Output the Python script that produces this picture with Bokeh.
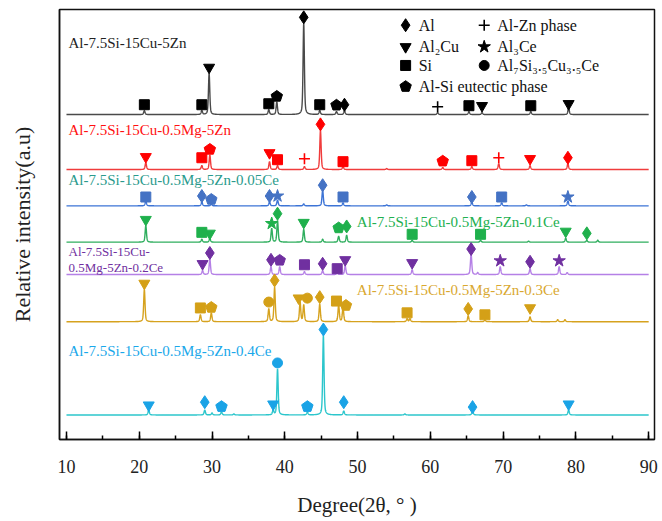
import numpy as np
from bokeh.plotting import figure
from bokeh.models import Range1d, SingleIntervalTicker, FixedTicker, Label
from bokeh.embed import file_html
from bokeh.resources import INLINE

# ---------------- data (2theta in degrees, intensities in a.u.) ----------------
names = ["Al-7.5Si-15Cu-5Zn",
         "Al-7.5Si-15Cu-0.5Mg-5Zn",
         "Al-7.5Si-15Cu-0.5Mg-5Zn-0.05Ce",
         "Al-7.5Si-15Cu-0.5Mg-5Zn-0.1Ce",
         "Al-7.5Si-15Cu-0.5Mg-5Zn-0.2Ce",
         "Al-7.5Si-15Cu-0.5Mg-5Zn-0.3Ce",
         "Al-7.5Si-15Cu-0.5Mg-5Zn-0.4Ce"]
offsets = [331, 275, 238, 201, 168, 120, 25]

# peak positions / heights
pk0_x = [20.7, 28.6, 29.6, 37.8, 38.9, 42.6, 44.8, 47.1, 48.2, 61.0, 65.3, 67.1, 73.8, 79.0]
pk0_h = [4, 4, 42, 5, 13, 93, 4, 3, 4, 2, 3, 2, 3, 7]
pk1_x = [20.9, 28.6, 29.7, 37.9, 39.0, 42.7, 44.9, 48.0, 54.0, 61.7, 65.7, 69.4, 73.7, 78.9]
pk1_h = [7, 4, 15, 8, 4, 3, 40, 3, 1, 2, 3, 6, 4, 6]
pk2_x = [20.9, 28.6, 29.9, 37.9, 39.0, 42.6, 45.2, 48.0, 54.0, 65.7, 69.8, 73.2, 78.9]
pk2_h = [5, 4, 2, 4, 6, 2, 16, 3, 1, 4, 3, 1, 5]
pk3_x = [20.9, 28.6, 29.7, 38.2, 39.0, 42.6, 45.2, 47.4, 48.5, 57.5, 66.9, 73.5, 78.6, 81.5, 83.0]
pk3_h = [17, 3, 4, 14, 22, 13, 3, 6, 7, 2, 2, 1, 4, 2, 2]
pk4_x = [28.7, 29.7, 38.1, 39.3, 42.7, 45.2, 47.2, 48.3, 57.5, 65.6, 66.5, 69.6, 73.7, 77.7, 78.8]
pk4_h = [4, 16, 8, 8, 3, 4, 2, 9, 5, 21, 2, 8, 6, 8, 2]
pk5_x = [20.7, 28.4, 29.9, 37.8, 38.6, 42.1, 42.6, 44.8, 47.4, 48.0, 56.8, 57.2, 65.2, 67.5, 73.7, 77.5, 78.5]
pk5_h = [33, 7, 9, 13, 35, 20, 17, 18, 17, 15, 3, 3, 6, 2, 5, 2, 2]
pk6_x = [21.3, 29.0, 30.0, 31.3, 33.0, 38.4, 39.0, 43.1, 45.3, 48.1, 56.5, 65.8, 79.0]
pk6_h = [5, 5, 2, 3, 1, 5, 47, 3, 81, 4, 1, 5, 5]

# phase markers: position, phase, height above the trace
mk0_x = [20.7, 28.6, 29.6, 37.8, 38.9, 42.6, 44.8, 47.1, 48.2, 61.0, 65.3, 67.1, 73.8, 79.0]
mk0_p = ["Si", "Si", "Al2Cu", "Si", "eut", "Al", "Si", "eut", "Al", "AlZn", "Si", "Al2Cu", "Si", "Al2Cu"]
mk0_h = [10, 10, 48, 11, 19, 99, 10, 10, 10, 8, 9, 9, 9, 11]
mk1_x = [20.9, 28.6, 29.7, 37.9, 39.0, 42.7, 44.9, 48.0, 61.7, 65.7, 69.4, 73.7, 78.9]
mk1_p = ["Al2Cu", "Si", "eut", "Al2Cu", "Si", "AlZn", "Al", "Si", "eut", "Si", "AlZn", "Al2Cu", "Al"]
mk1_h = [13, 12, 21, 17, 10, 11, 46, 8, 9, 9, 12, 11, 12]
mk2_x = [20.9, 28.6, 29.9, 37.9, 39.0, 45.2, 48.0, 65.7, 69.8, 78.9]
mk2_p = ["Si", "Al", "eut", "Al", "Al3Ce", "Al", "Si", "Al", "Si", "Al3Ce"]
mk2_h = [9, 10, 7, 10, 10, 21, 9, 9, 9, 9]
mk3_x = [20.9, 28.6, 29.7, 38.2, 39.0, 42.6, 47.4, 48.5, 57.5, 66.9, 78.6, 81.5]
mk3_p = ["Al2Cu", "Si", "Al2Cu", "Al3Ce", "Al", "Al2Cu", "eut", "Al", "Si", "Si", "Al2Cu", "Al"]
mk3_h = [23, 10, 9, 19, 29, 20, 15, 16, 8, 8, 11, 9]
mk4_x = [28.7, 29.7, 38.1, 39.3, 42.7, 45.2, 47.2, 48.3, 57.5, 65.6, 69.6, 73.7, 77.7]
mk4_p = ["Al2Cu", "Al", "Al", "eut", "Si", "Al", "Si", "Al2Cu", "Al2Cu", "Al", "Al3Ce", "Al", "Al3Ce"]
mk4_h = [11, 22, 15, 15, 10, 11, 6, 15, 12, 26, 14, 13, 14]
mk5_x = [20.7, 28.4, 29.9, 37.8, 38.6, 41.9, 43.1, 44.8, 47.1, 48.4, 56.8, 65.2, 67.5, 73.7]
mk5_p = ["Al2Cu", "Si", "eut", "AlSiCuCe", "Al", "Al2Cu", "AlSiCuCe", "Al", "Si", "eut", "Si", "Al", "Si", "Al2Cu"]
mk5_h = [39, 14, 15, 20, 42, 24, 24, 25, 21, 17, 9, 13, 7, 14]
mk6_x = [21.3, 29.0, 31.3, 38.4, 39.0, 43.1, 45.3, 48.1, 65.8, 79.0]
mk6_p = ["Al2Cu", "Al", "eut", "Al2Cu", "AlSiCuCe", "eut", "Al", "Al", "Al", "Al2Cu"]
mk6_h = [10, 13, 9, 11, 53, 9, 87, 13, 8, 11]

legend_phases = ["Al", "Al2Cu", "Si", "eut", "AlZn", "Al3Ce", "AlSiCuCe"]
legend_texts = ["Al", "Al\u2082Cu", "Si", "Al-Si eutectic phase", "Al-Zn phase", "Al\u2083Ce",
                "Al\u2087Si\u2083.\u2085Cu\u2083.\u2085Ce"]

# ---------------- styles ----------------
line_colors = ["#4a4a4a", "#f03c3c", "#3d74d6", "#2fae5e", "#b580e6", "#d6a21e", "#2cc6cc"]
mark_colors = ["#000000", "#ff0000", "#4472c4", "#1fb04c", "#7030a0", "#d4a017", "#1aa3e6"]
label_colors = ["#222222", "#ff1010", "#2a9a8c", "#22b050", "#7030a0", "#d9a830", "#1aa8ea"]
FONT = "Liberation Serif"

X0, X1 = 9.04, 90.8
Y0, Y1 = 0, 438
FW, FH = 595, 438
PXX = FW / (X1 - X0)   # pixels per degree
PXY = FH / (Y1 - Y0)

p = figure(width=658, height=519, output_backend="svg", toolbar_location=None,
           x_range=Range1d(X0, X1), y_range=Range1d(Y0, Y1),
           min_border_left=59, min_border_right=4, min_border_top=9, min_border_bottom=72)
p.xgrid.visible = False
p.ygrid.visible = False
p.background_fill_color = "white"
p.outline_line_color = "#111111"
p.outline_line_width = 1.5

marker_map = {"Al": ("diamond", 13), "Al2Cu": ("inverted_triangle", 11), "Si": ("square", 10),
              "AlZn": ("cross", 11), "Al3Ce": ("star", 13), "AlSiCuCe": ("circle", 10)}


def draw_marks(xs, ys, phases, color):
    for ph, (mk, sz) in marker_map.items():
        sx = [x for x, q in zip(xs, phases) if q == ph]
        sy = [y for y, q in zip(ys, phases) if q == ph]
        if not sx:
            continue
        if mk == "cross":
            p.scatter(sx, sy, marker=mk, size=sz, line_color=color, line_width=1.6)
        else:
            p.scatter(sx, sy, marker=mk, size=sz, fill_color=color, line_color=color)
    px = [x for x, q in zip(xs, phases) if q == "eut"]
    py = [y for y, q in zip(ys, phases) if q == "eut"]
    if px:
        r = 6.0
        ang = np.pi / 2 + np.arange(5) * 2 * np.pi / 5
        xs_p = [list(x + r * np.cos(ang) / PXX) for x in px]
        ys_p = [list(y + r * np.sin(ang) / PXY - 0.5) for y in py]
        p.patches(xs_p, ys_p, fill_color=color, line_color=color)


tt = np.arange(10.0, 90.0001, 0.02)
peaks = [(pk0_x, pk0_h), (pk1_x, pk1_h), (pk2_x, pk2_h), (pk3_x, pk3_h),
         (pk4_x, pk4_h), (pk5_x, pk5_h), (pk6_x, pk6_h)]
marks = [(mk0_x, mk0_p, mk0_h), (mk1_x, mk1_p, mk1_h), (mk2_x, mk2_p, mk2_h), (mk3_x, mk3_p, mk3_h),
         (mk4_x, mk4_p, mk4_h), (mk5_x, mk5_p, mk5_h), (mk6_x, mk6_p, mk6_h)]

for i in range(7):
    px, ph = peaks[i]
    y = np.full_like(tt, float(offsets[i]))
    for x0, h in zip(px, ph):
        d = tt - x0
        y += h * (0.55 * np.exp(-d * d / (2 * 0.09 ** 2)) + 0.45 / (1 + (d / 0.11) ** 2))
    p.line(tt, y, line_color=line_colors[i], line_width=1.4)

for i in range(7):
    mx, mp, mh = marks[i]
    draw_marks(mx, [offsets[i] + h for h in mh], mp, mark_colors[i])

# trace labels
lab_pos = [(10.28, 404, 15), (10.28, 315, 15), (10.28, 264, 15), (49.9, 222, 15),
           None, (49.9, 152, 15), (10.28, 90, 15)]
for i, pos in enumerate(lab_pos):
    if pos is None:
        continue
    p.add_layout(Label(x=pos[0], y=pos[1], text=names[i], text_font=FONT,
                       text_font_size=f"{pos[2]}px", text_color=label_colors[i],
                       text_baseline="middle"))
p.add_layout(Label(x=10.28, y=192, text="Al-7.5Si-15Cu-", text_font=FONT, text_font_size="13px",
                   text_color=label_colors[4], text_baseline="middle"))
p.add_layout(Label(x=10.28, y=175, text="0.5Mg-5Zn-0.2Ce", text_font=FONT, text_font_size="13px",
                   text_color=label_colors[4], text_baseline="middle"))

# legend (custom)
col_mx = [56.6, 56.6, 56.6, 56.6, 67.4, 67.4, 67.4]
row_y = [422, 400, 381, 360, 422, 400, 381]
for ph, t, mx, ry in zip(legend_phases, legend_texts, col_mx, row_y):
    draw_marks([mx], [ry], [ph], "black")
    p.add_layout(Label(x=mx + 1.8, y=ry, text=t, text_font=FONT, text_font_size="16px",
                       text_color="#111111", text_baseline="middle"))

# axes
xa = p.xaxis[0]
xa.ticker = SingleIntervalTicker(interval=10, num_minor_ticks=2)
xa.major_tick_in = 8
xa.major_tick_out = 0
xa.minor_tick_in = 4
xa.minor_tick_out = 0
xa.major_tick_line_width = 1.5
xa.minor_tick_line_width = 1.5
xa.axis_line_width = 1.5
xa.axis_line_color = "#111111"
xa.major_label_text_font = FONT
xa.major_label_text_font_size = "18px"
xa.major_label_text_color = "#222222"
xa.major_label_standoff = 20
xa.axis_label = "Degree(2\u03b8, \u00b0 )"
xa.axis_label_text_font = FONT
xa.axis_label_text_font_size = "21px"
xa.axis_label_text_font_style = "normal"
xa.axis_label_text_color = "#222222"
xa.axis_label_standoff = 17

ya = p.yaxis[0]
ya.ticker = FixedTicker(ticks=[])
ya.major_tick_in = 0
ya.major_tick_out = 0
ya.minor_tick_in = 0
ya.minor_tick_out = 0
ya.major_label_standoff = 0
ya.axis_line_width = 1.5
ya.axis_line_color = "#111111"
ya.axis_label = "Relative intensity(a.u)"
ya.axis_label_text_font = FONT
ya.axis_label_text_font_size = "22px"
ya.axis_label_text_font_style = "normal"
ya.axis_label_text_color = "#222222"
ya.axis_label_standoff = 25

open("out.html", "w").write(file_html(p, INLINE))
